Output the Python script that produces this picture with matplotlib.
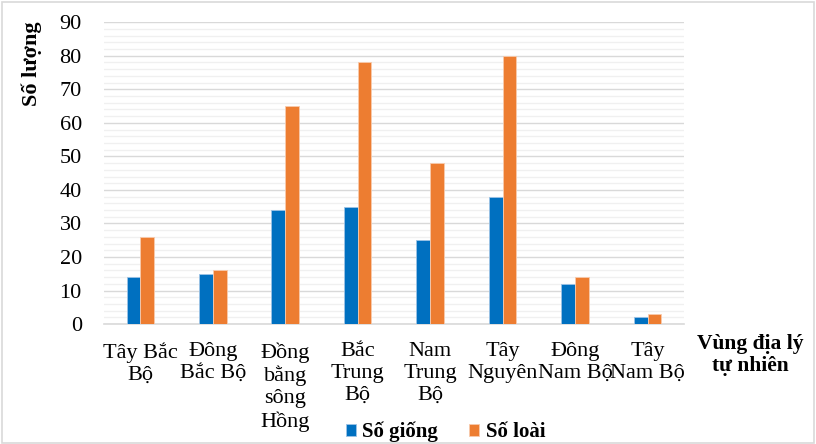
import matplotlib.pyplot as plt
import numpy as np
from matplotlib.patches import Rectangle

plt.rcParams['font.family'] = ['Liberation Serif', 'DejaVu Serif']

regions = ["Tây Bắc\nBộ", "Đông\nBắc Bộ", "Đồng\nbằng\nsông\nHồng", "Bắc\nTrung\nBộ",
           "Nam\nTrung\nBộ", "Tây\nNguyên", "Đông\nNam Bộ", "Tây\nNam Bộ"]
so_giong = [14, 15, 34, 35, 25, 38, 12, 2]
so_loai = [26, 16, 65, 78, 48, 80, 14, 3]
series_names = ["Số giống", "Số loài"]
y_ticks = list(range(0, 91, 10))

fig = plt.figure(figsize=(8.16, 4.44), dpi=100)
fig.patch.set_facecolor('white')
fig.patches.append(Rectangle((0.002, 0.002), 0.996, 0.994, transform=fig.transFigure,
                             fill=False, edgecolor='#D9D9D9', linewidth=1.2))

ax = fig.add_axes([0.1275, 0.270, 0.7105, 0.680])

x = np.arange(len(regions))
w = 0.19
ax.bar(x - w / 2, so_giong, w, color='#0070C0', edgecolor='#9DC3E6', linewidth=0.6,
       label=series_names[0], zorder=3)
ax.bar(x + w / 2, so_loai, w, color='#ED7D31', edgecolor='#F8CBAD', linewidth=0.6,
       label=series_names[1], zorder=3)

ax.set_xlim(-0.5, len(regions) - 0.5)
ax.set_ylim(0, 90)
ax.set_yticks(y_ticks)
ax.set_yticks(np.arange(0, 91, 2), minor=True)
ax.grid(axis='y', which='major', color='#D9D9D9', linewidth=1.0, zorder=0)
ax.grid(axis='y', which='minor', color='#F0F0F0', linewidth=1.0, zorder=0)
ax.set_axisbelow(True)

for side in ['top', 'right', 'left']:
    ax.spines[side].set_visible(False)
ax.spines['bottom'].set_color('#D9D9D9')
ax.spines['bottom'].set_linewidth(1.2)

ax.tick_params(axis='y', which='both', length=0, labelsize=16, pad=16)
ax.tick_params(axis='x', length=0, labelsize=16, pad=13)
ax.set_xticks(x)
ax.set_xticklabels(regions, linespacing=1.2, va='top', ha='center')

fig.text(0.039, 0.856, "Số lượng", rotation=90, fontsize=16, fontweight='bold',
         ha='center', va='center')
fig.text(0.920, 0.200, "Vùng địa lý\ntự nhiên", fontsize=15.5, fontweight='bold',
         ha='center', va='center', linespacing=1.1)

fig.legend(loc='center', bbox_to_anchor=(0.546, 0.027), ncol=2, frameon=False,
           prop={'weight': 'bold', 'size': 15}, handlelength=0.48, handleheight=0.48,
           handletextpad=0.3, columnspacing=1.5, borderpad=0)

fig.savefig('out.png', dpi=100)
